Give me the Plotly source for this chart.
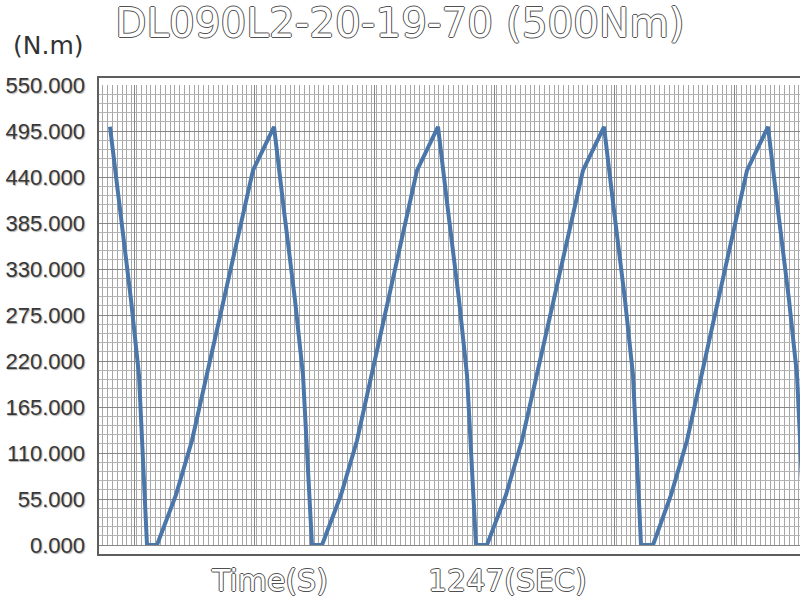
import plotly.graph_objects as go

# ---- data (time in s, torque in N.m) ----
time_s = [2.5, 4.58, 6.88, 8.54, 10.21, 12.29, 16.25, 19.58, 32.29, 34.58,
          36.67, 38.75, 41.04, 42.71, 44.58, 46.67, 50.63, 53.96, 66.46, 68.75,
          70.83, 72.92, 75.21, 76.88, 78.75, 81.04, 85.0, 88.33, 101.04, 103.33,
          105.42, 107.5, 109.79, 111.46, 113.13, 115.63, 119.38, 122.71, 135.21, 137.5,
          139.58, 141.67, 143.96, 145.63, 147.29]
torque_nm = [500, 400, 293, 203, 0, 0, 60, 125, 448, 475,
             500, 400, 293, 203, 0, 0, 60, 125, 448, 475,
             500, 400, 293, 203, 0, 0, 60, 125, 448, 475,
             500, 400, 293, 203, 0, 0, 60, 125, 448, 475,
             500, 400, 293, 203, 0]

y_ticks = [0, 55, 110, 165, 220, 275, 330, 385, 440, 495, 550]
y_tick_labels = [f"{v:.3f}" for v in y_ticks]

title_text = "DL090L2-20-19-70 (500Nm)"
unit_text = "(N.m)"
x_label_text = "Time(S)"
duration_text = "1247(SEC)"

W, H = 800, 611
L, R, T, B = 98, 0, 85, 66
plot_w = W - L - R
plot_h = H - T - B
bottom_px = H - B  # window y of value 0


def py(win_y):
    return (bottom_px - win_y) / plot_h


def px(win_x):
    return (win_x - L) / plot_w


oc = "#505050"
outline = f"1px 0 0 {oc}, -1px 0 0 {oc}, 0 1px 0 {oc}, 0 -1px 0 {oc}"

fig = go.Figure()
fig.add_trace(go.Scatter(
    x=time_s, y=torque_nm, mode="lines",
    line=dict(color="#4a76aa", width=4),
    hoverinfo="x+y", showlegend=False,
))

fig.update_layout(
    width=W, height=H,
    margin=dict(l=L, r=R, t=T, b=B),
    paper_bgcolor="white", plot_bgcolor="white",
    title=dict(
        text=title_text, x=400 / W, xref="container", xanchor="center",
        y=1 - 23 / H, yref="container", yanchor="middle",
        font=dict(family="DejaVu Sans", size=40.5, color="white", shadow=outline),
    ),
    xaxis=dict(
        range=[0, plot_w / 4.8],
        showticklabels=False, ticks="",
        showgrid=True, gridcolor="#868686", gridwidth=1,
        tick0=7.7, dtick=25,
        minor=dict(dtick=1, tick0=0, showgrid=True, gridcolor="#a6a6a6", gridwidth=1),
        zeroline=False, showline=False,
    ),
    yaxis=dict(
        range=[0, 550],
        tickvals=y_ticks, ticktext=y_tick_labels,
        tickfont=dict(family="Liberation Sans", size=22, color="#383838",
                      shadow="1px 1px 1px #b0b0b0"),
        ticklabelstandoff=12,
        showgrid=True, gridcolor="#878787", gridwidth=1,
        minor=dict(dtick=11, tick0=0, showgrid=True, gridcolor="#b4b4b4", gridwidth=1),
        zeroline=True, zerolinecolor="#878787", zerolinewidth=1,
        showline=False, ticks="",
    ),
    shapes=[dict(
        type="rect", xref="paper", yref="paper",
        x0=0, x1=1.05, y0=-10 / plot_h, y1=1 + 8 / plot_h,
        line=dict(color="#5e5e5e", width=2), fillcolor="rgba(0,0,0,0)", layer="above",
    )],
    annotations=[
        dict(text=unit_text, xref="paper", yref="paper",
             x=px(48), y=py(45),
             xanchor="center", yanchor="middle", showarrow=False,
             font=dict(family="DejaVu Sans", size=25, color="#333333")),
        dict(text=x_label_text, xref="paper", yref="paper",
             x=px(269), y=py(580),
             xanchor="center", yanchor="middle", showarrow=False,
             font=dict(family="DejaVu Sans", size=30, color="white", shadow=outline)),
        dict(text=duration_text, xref="paper", yref="paper",
             x=px(507), y=py(580),
             xanchor="center", yanchor="middle", showarrow=False,
             font=dict(family="DejaVu Sans", size=30, color="white", shadow=outline)),
    ],
)

fig.write_html(
    "out.html",
    config={"displayModeBar": False},
    post_script="document.body.style.margin='0';document.body.style.overflow='hidden';",
)
